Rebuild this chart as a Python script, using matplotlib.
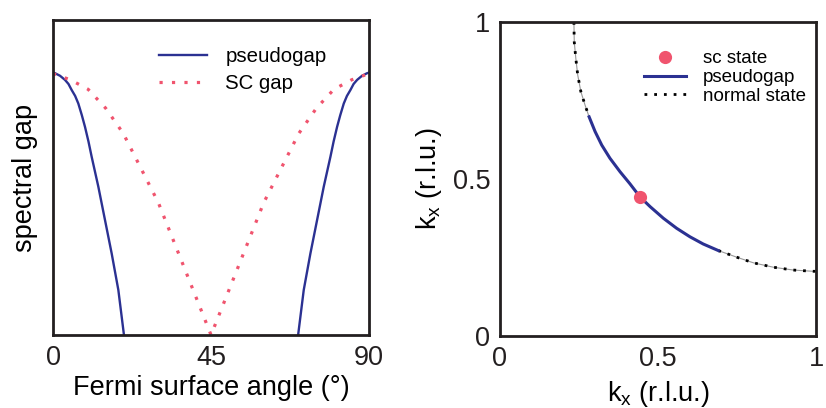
import numpy as np
import matplotlib
matplotlib.use("Agg")
import matplotlib.pyplot as plt

plt.rcParams['font.family'] = ['Liberation Sans', 'DejaVu Sans']

# left panel: spectral gap vs Fermi surface angle
pg_left_angle = [0, 0.6, 2.0, 3.4, 4.4, 5.3, 6.3, 7.2, 8.2, 9.1, 10.1, 11.0,
                 12.9, 14.8, 16.7, 18.6, 20.2]
pg_left_gap = [0.833, 0.831, 0.823, 0.810, 0.797, 0.778, 0.759, 0.735, 0.698,
               0.661, 0.614, 0.566, 0.471, 0.365, 0.259, 0.143, 0.0]
pg_right_angle = [69.8, 71.4, 73.3, 75.2, 77.1, 79.0, 79.9, 80.9, 81.8, 82.8,
                  83.7, 84.7, 85.6, 86.6, 88.0, 89.4, 90]
pg_right_gap = [0.0, 0.143, 0.259, 0.365, 0.471, 0.566, 0.614, 0.661, 0.698,
                0.735, 0.759, 0.778, 0.797, 0.810, 0.823, 0.831, 0.833]

sc_angle = [0, 5, 10, 15, 20, 25, 30, 35, 40, 45, 50, 55, 60, 65, 70, 75, 80, 85, 90]
sc_gap = [0.83, 0.81, 0.78, 0.72, 0.64, 0.53, 0.42, 0.28, 0.14, 0.0,
          0.14, 0.28, 0.42, 0.53, 0.64, 0.72, 0.78, 0.81, 0.83]

# right panel: Fermi surface in the quadrant
normal_top_kx = [0.234, 0.235, 0.240, 0.246, 0.256, 0.269, 0.282]
normal_top_ky = [1.0, 0.937, 0.884, 0.831, 0.778, 0.736, 0.698]
pg_kx = [0.282, 0.301, 0.322, 0.348, 0.380, 0.411, 0.443, 0.475, 0.517,
         0.559, 0.601, 0.643, 0.691]
pg_ky = [0.698, 0.651, 0.608, 0.566, 0.523, 0.485, 0.443, 0.412, 0.375,
         0.343, 0.316, 0.293, 0.272]
normal_bot_kx = [0.691, 0.749, 0.802, 0.865, 0.928, 0.991, 1.0]
normal_bot_ky = [0.272, 0.251, 0.233, 0.219, 0.210, 0.206, 0.206]
sc_point = (0.443, 0.443)

navy = '#2b3192'
pink = '#f0546e'
frame = '#231f20'
fs = 19.5

fig = plt.figure(figsize=(8.26, 4.08), dpi=100)
ax1 = fig.add_axes([0.0642, 0.1789, 0.3826, 0.772])
ax2 = fig.add_axes([0.6053, 0.1765, 0.3826, 0.7696])

ax1.plot(pg_left_angle, pg_left_gap, color=navy, lw=1.7, label='pseudogap')
ax1.plot(pg_right_angle, pg_right_gap, color=navy, lw=1.7)
ax1.plot(sc_angle, sc_gap, color=pink, lw=2.3, ls=(0, (1, 2.9)), label='SC gap')
ax1.set_xlim(0, 90)
ax1.set_ylim(0, 1)
ax1.set_xticks([0, 45, 90])
ax1.set_yticks([])
ax1.set_xlabel('Fermi surface angle (°)', fontsize=fs, labelpad=3)
ax1.set_ylabel('spectral gap', fontsize=fs, labelpad=11)
ax1.legend(loc='upper left', bbox_to_anchor=(0.335, 0.913), frameon=False,
           fontsize=14.7, handlelength=2.35, handletextpad=0.9,
           labelspacing=0.37, borderpad=0, borderaxespad=0)

ax2.plot(normal_top_kx, normal_top_ky, color='#999999', lw=0.8)
ax2.plot(normal_bot_kx, normal_bot_ky, color='#999999', lw=0.8)
ax2.plot(normal_top_kx, normal_top_ky, color='black', lw=2, ls=(0, (1, 2.5)))
ax2.plot(normal_bot_kx, normal_bot_ky, color='black', lw=2, ls=(0, (1, 2.5)))
ax2.plot(pg_kx, pg_ky, color=navy, lw=2.2)
ax2.plot([sc_point[0]], [sc_point[1]], 'o', color=pink, ms=9.5, mec='none')
ax2.set_xlim(0, 1)
ax2.set_ylim(0, 1)
ax2.set_xticks([0, 0.5, 1])
ax2.set_xticklabels(['0', '0.5', '1'])
ax2.set_yticks([0, 0.5, 1])
ax2.set_yticklabels(['0', '0.5', '1'])
ax2.set_xlabel('k$_\\mathregular{x}$ (r.l.u.)', fontsize=fs, labelpad=5)
ax2.set_ylabel('k$_\\mathregular{x}$ (r.l.u.)', fontsize=fs, labelpad=6)

h_sc, = ax2.plot([], [], 'o', color=pink, ms=9.5, mec='none')
h_pg, = ax2.plot([], [], color=navy, lw=2.2)
h_n, = ax2.plot([], [], color='black', lw=2, ls=(0, (1, 2.5)))
ax2.legend([h_sc, h_pg, h_n], ['sc state', 'pseudogap', 'normal state'],
           loc='upper left', bbox_to_anchor=(0.455, 0.91), frameon=False,
           fontsize=13.5, handlelength=2.24, handletextpad=0.9,
           labelspacing=0.09, borderpad=0, borderaxespad=0, numpoints=1)

for ax in (ax1, ax2):
    for s in ax.spines.values():
        s.set_linewidth(2)
        s.set_color(frame)
    ax.tick_params(length=0, labelsize=fs, pad=7, colors='#231f20')

fig.savefig('out.png', dpi=100)
